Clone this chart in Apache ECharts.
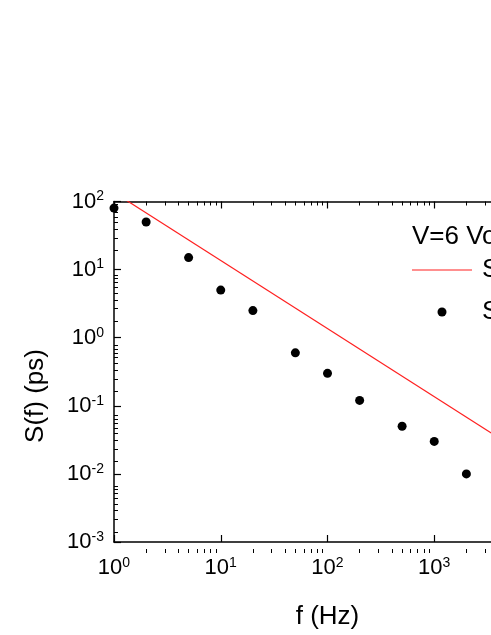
<!DOCTYPE html>
<html>
<head>
<meta charset="utf-8">
<script src="https://cdn.jsdelivr.net/npm/echarts@6/dist/echarts.min.js"></script>
<style>
  html, body { margin: 0; padding: 0; background: #fff; overflow: hidden; }
  #chart { width: 600px; height: 635px; }
</style>
</head>
<body>
<div id="chart"></div>
<script>
// measured points
const freq = [1, 2, 5, 10, 20, 50, 100, 200, 500, 1000, 2000]
const spectrum = [80, 50, 15, 5, 2.5, 0.6, 0.3, 0.12, 0.05, 0.03, 0.01]
// 1/f reference line (end points)
const fitFreq = [1, 10000]
const fitValue = [136, 0.0136]

const legendTitle = 'V=6 Volts'
const fitName = 'S(f) ∝ 1/f'
const dataName = 'S(f) data'

// exponent range of each axis
const xExp = [0, 4]
const yExp = [-3, 2]

// minor tick positions (log10 space) between decades
const minorOf = (lo, hi) => {
	const out = []
	for (let e = lo; e < hi; e++) {
		for (let k = 2; k <= 9; k++) out.push(e + Math.log10(k))
	}
	return out
}

const font = 'Liberation Sans, Arial, sans-serif'
const powLabel = (v) => '{b|10}{s|' + Math.round(Math.log10(v)) + '}'
const richLabel = {
	b: { fontSize: 22, fontFamily: font, color: '#000', lineHeight: 24 },
	s: { fontSize: 14, fontFamily: font, color: '#000', verticalAlign: 'top' }
}

// same plot rect for every grid, one grid per pair of axes
const plotRect = { left: 114, top: 201.5, right: 59, bottom: 82, containLabel: false }

const majorAxis = (grid, exp, position, withLabel, margin) => ({
	gridIndex: grid,
	type: 'log',
	logBase: 10,
	min: Math.pow(10, exp[0]),
	max: Math.pow(10, exp[1]),
	position: position,
	splitLine: { show: false },
	axisLine: { show: true, onZero: false, lineStyle: { color: '#000', width: 1.5 } },
	axisTick: { show: true, inside: true, length: 7, lineStyle: { color: '#000', width: 1.2 } },
	axisLabel: withLabel
		? { show: true, margin: margin, formatter: powLabel, rich: richLabel }
		: { show: false }
})

const minorAxis = (grid, exp, position) => ({
	gridIndex: grid,
	type: 'value',
	min: exp[0],
	max: exp[1],
	position: position,
	splitLine: { show: false },
	axisLine: { show: false, onZero: false },
	axisTick: {
		show: true,
		inside: true,
		length: 4,
		customValues: minorOf(exp[0], exp[1]),
		lineStyle: { color: '#000', width: 1 }
	},
	axisLabel: { show: false }
})

const chart = echarts.init(document.getElementById('chart'), null, { renderer: 'canvas' })

const option = {
	animation: false,
	backgroundColor: '#fff',
	grid: [plotRect, plotRect, plotRect, plotRect],
	title: {
		text: legendTitle,
		left: 407,
		top: 219,
		textStyle: { fontSize: 26, fontWeight: 'normal', fontFamily: font, color: '#000' }
	},
	legend: {
		orient: 'vertical',
		left: 407,
		top: 252,
		itemWidth: 60,
		itemHeight: 9,
		itemGap: 16,
		symbolKeepAspect: true,
		textStyle: { fontSize: 26, fontFamily: font, color: '#000', padding: [0, 0, 0, 5] },
		data: [
			{ name: fitName, icon: 'path://M0,0H60V1.2H0Z' },
			{ name: dataName, icon: 'circle' }
		]
	},
	xAxis: [
		{
			...majorAxis(0, xExp, 'bottom', true, 14),
			name: 'f (Hz)',
			nameLocation: 'middle',
			nameGap: 62,
			nameTextStyle: { fontSize: 26, fontFamily: font, color: '#000' }
		},
		minorAxis(1, xExp, 'bottom'),
		majorAxis(2, xExp, 'top', false),
		minorAxis(3, xExp, 'top')
	],
	yAxis: [
		majorAxis(0, yExp, 'left', true, 10),
		minorAxis(1, yExp, 'left'),
		majorAxis(2, yExp, 'right', false),
		minorAxis(3, yExp, 'right')
	],
	graphic: [
		{
			type: 'text',
			x: 36,
			y: 396,
			rotation: Math.PI / 2,
			style: {
				text: 'S(f) (ps)',
				fontSize: 26,
				fontFamily: font,
				fill: '#000',
				align: 'center',
				verticalAlign: 'middle'
			}
		}
	],
	series: [
		{
			name: fitName,
			type: 'line',
			xAxisIndex: 0,
			yAxisIndex: 0,
			symbol: 'none',
			clip: true,
			lineStyle: { color: '#ff2020', width: 1.2 },
			itemStyle: { color: '#ff2020' },
			data: fitFreq.map((f, i) => [f, fitValue[i]])
		},
		{
			name: dataName,
			type: 'scatter',
			xAxisIndex: 0,
			yAxisIndex: 0,
			symbol: 'circle',
			symbolSize: 9,
			itemStyle: { color: '#000', opacity: 1 },
			data: freq.map((f, i) => [f, spectrum[i]])
		}
	]
}

chart.setOption(option)
</script>
</body>
</html>
